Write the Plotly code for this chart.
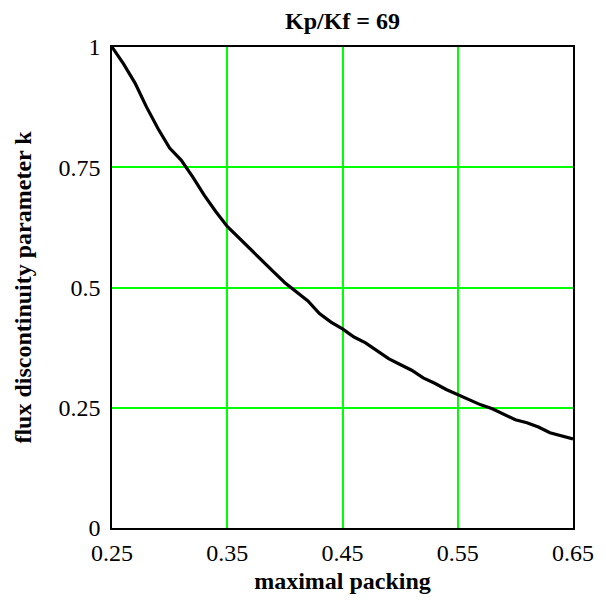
import plotly.graph_objects as go

packing = [0.25, 0.26, 0.27, 0.28, 0.29, 0.30, 0.31, 0.32, 0.33, 0.34, 0.35,
           0.36, 0.37, 0.38, 0.39, 0.40, 0.41, 0.42, 0.43, 0.44, 0.45,
           0.46, 0.47, 0.48, 0.49, 0.50, 0.51, 0.52, 0.53, 0.54, 0.55,
           0.56, 0.57, 0.58, 0.59, 0.60, 0.61, 0.62, 0.63, 0.64, 0.65]
k_param = [1.0, 0.965, 0.925, 0.875, 0.83, 0.79, 0.765, 0.73, 0.692, 0.658, 0.627,
           0.603, 0.581, 0.557, 0.533, 0.51, 0.491, 0.472, 0.446, 0.428, 0.414,
           0.397, 0.385, 0.368, 0.352, 0.340, 0.328, 0.312, 0.301, 0.288, 0.277,
           0.266, 0.256, 0.248, 0.236, 0.225, 0.219, 0.210, 0.198, 0.192, 0.185]

x_ticks = [0.25, 0.35, 0.45, 0.55, 0.65]
x_tick_labels = ["0.25", "0.35", "0.45", "0.55", "0.65"]
y_ticks = [0, 0.25, 0.5, 0.75, 1]
y_tick_labels = ["0", "0.25", "0.5", "0.75", "1"]

font_family = "Liberation Serif"

# page body has an 8px margin, so the figure is 8px smaller and offset
W, H = 598, 595
L, R, T, B = 104, 33, 39, 75

fig = go.Figure()
fig.add_trace(go.Scatter(x=packing, y=k_param, mode="lines",
                         line=dict(color="black", width=3.2), showlegend=False))

fig.update_layout(
    width=W, height=H,
    margin=dict(l=L, r=R, t=T, b=B, autoexpand=False),
    paper_bgcolor="white", plot_bgcolor="white",
    font=dict(family=font_family, size=24, color="black"),
    title=dict(text="<b>Kp/Kf = 69</b>", x=(L + (W - R)) / 2 / W, xanchor="center",
               y=1 - 13 / H, yanchor="middle",
               font=dict(family=font_family, size=24, color="black")),
)
fig.update_xaxes(
    range=[0.25, 0.65], tickvals=x_ticks, ticktext=x_tick_labels,
    showgrid=True, gridcolor="#00ff00", gridwidth=1.5,
    showline=True, linecolor="black", linewidth=1.5, mirror=True,
    zeroline=False, ticks="", ticklabelstandoff=2,
    title=dict(text="<b>maximal packing</b>", standoff=8,
               font=dict(family=font_family, size=24)),
    tickfont=dict(family=font_family, size=24),
)
fig.update_yaxes(
    range=[0, 1], tickvals=y_ticks, ticktext=y_tick_labels,
    showgrid=True, gridcolor="#00ff00", gridwidth=1.5,
    showline=True, linecolor="black", linewidth=1.5, mirror=True,
    zeroline=False, ticks="", ticklabelstandoff=5,
    title=dict(text="<b>flux discontinuity parameter k</b>", standoff=20,
               font=dict(family=font_family, size=24)),
    tickfont=dict(family=font_family, size=24),
)

fig.write_html("out.html")
